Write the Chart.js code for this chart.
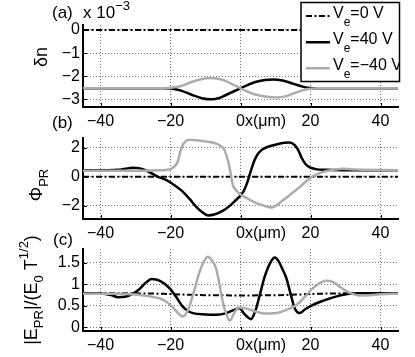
<!DOCTYPE html>
<html><head><meta charset="utf-8">
<script src="https://cdn.jsdelivr.net/npm/chart.js@4.4.0/dist/chart.umd.min.js"></script>
<style>
html,body{margin:0;padding:0;background:#fff;}
#wrap{position:relative;width:415px;height:357px;}
canvas{position:absolute;left:0;top:0;}
</style></head><body>
<div id="wrap">
<canvas id="ca" width="415" height="357"></canvas>
<canvas id="cb" width="415" height="357"></canvas>
<canvas id="cc" width="415" height="357"></canvas>
</div>
<script>
// ---------- data ----------
const xTicks = [-40, -20, 0, 20, 40];
const seriesNames = ['V_e=0 V', 'V_e=40 V', 'V_e=-40 V'];

// (a) delta n  (x 10^-3)
const dnTicks = [0, -1, -2, -3];
const dnX0 = [-45, 45];
const dnV0 = [0, 0];
const dnX40 = [-45,-22,-20,-17,-14,-11,-8.5,-6,-4,-2,0,2,4,7,9.3,12,15,18,20,22,45];
const dnV40 = [-2.52,-2.52,-2.53,-2.62,-2.8,-2.95,-3.0,-2.94,-2.8,-2.66,-2.52,-2.38,-2.26,-2.16,-2.14,-2.18,-2.32,-2.46,-2.51,-2.52,-2.52];
const dnXm40 = [-45,-22,-20,-17,-14,-11,-8.8,-6,-4,-2,0,2,4,7,10.5,13,15,18,20,22,45];
const dnVm40 = [-2.52,-2.52,-2.5,-2.42,-2.25,-2.12,-2.08,-2.12,-2.22,-2.37,-2.52,-2.66,-2.78,-2.88,-2.92,-2.86,-2.75,-2.6,-2.54,-2.52,-2.52];

// (b) Phi_PR
const phTicks = [2, 0, -2];
const phX0 = [-45, 45];
const phV0 = [0, 0];
const phX40 = [-45,-38,-35,-33,-30.8,-29,-27,-25,-23.6,-22,-20.3,-18.5,-16.5,-14.5,-12.7,-11,-9.3,-7.5,-5.1,-3,-1.5,0,1,2,3,4,5,6,7.5,10,12.5,14,15.5,16.5,17.5,18.5,19.8,21.5,24.5,30,45];
const phV40 = [0.46,0.46,0.48,0.55,0.63,0.6,0.45,0.18,0.0,-0.15,-0.35,-0.65,-1.03,-1.55,-2.07,-2.45,-2.68,-2.62,-2.37,-2.0,-1.65,-1.3,-0.95,-0.35,0.45,1.15,1.6,1.85,2.05,2.22,2.36,2.38,2.2,1.85,1.3,0.9,0.65,0.53,0.48,0.46,0.46];
const phXm40 = [-45,-30,-23,-20.3,-19,-17.9,-17.3,-16.5,-15.5,-14.6,-12,-9,-7,-5.5,-4.6,-3.8,-3.1,-2.2,-1.2,0.2,2,3.6,6,8.9,11.5,14.1,17,19.8,22,24.5,27,29.3,33,45];
const phVm40 = [0.42,0.42,0.45,0.5,0.7,1.06,1.65,2.2,2.5,2.56,2.52,2.42,2.3,2.12,1.87,1.3,0.6,-0.56,-0.95,-1.26,-1.5,-1.72,-1.95,-2.13,-1.75,-1.26,-0.7,-0.1,0.2,0.4,0.5,0.55,0.5,0.46];

// (c) |E_PR|/(E_0 T^{1/2})
const eTicks = [0, 0.5, 1, 1.5];
const eX0 = [-45,-30,-22,-16,-10,0,10,16,22,30,45];
const eV0 = [0.79,0.79,0.78,0.76,0.745,0.74,0.745,0.76,0.78,0.79,0.79];
const eX40 = [-45,-39,-37,-35,-33,-31,-29,-27,-25.4,-23,-20.3,-18,-16.5,-15,-13.6,-10,-7,-4,-2,-0.3,1.2,3,4.3,5.5,7,8.5,9.8,11,12,13.1,14.5,15.5,16.9,18.5,20.7,23,25.5,28,31.2,35,45];
const eV40 = [0.79,0.78,0.75,0.70,0.71,0.77,0.88,1.04,1.12,1.08,0.91,0.66,0.48,0.38,0.33,0.3,0.29,0.33,0.4,0.44,0.3,0.19,0.4,0.75,1.2,1.5,1.62,1.52,1.35,1.14,0.72,0.44,0.33,0.42,0.52,0.6,0.67,0.73,0.78,0.79,0.79];
const eXm40 = [-45,-35,-30,-26,-23,-21.3,-19.5,-18,-16.5,-15,-13.6,-11.7,-10.3,-9.3,-8.2,-7,-6,-5.1,-4,-3.1,-2,-0.5,1.5,4.6,7,10.3,13,16,18.5,20.7,22.5,24.5,26.5,28.4,30.5,32.2,34,36,40,45];
const eVm40 = [0.78,0.78,0.76,0.72,0.67,0.6,0.48,0.34,0.25,0.4,0.75,1.29,1.55,1.64,1.56,1.37,1.0,0.6,0.3,0.15,0.3,0.46,0.44,0.36,0.32,0.33,0.4,0.52,0.72,0.91,1.02,1.08,1.05,0.94,0.83,0.77,0.74,0.74,0.77,0.78];

// ---------- styling ----------
const FF = "'Liberation Sans', Arial, Helvetica, sans-serif";
const W = 415, H = 357, XH = 24;
const GRAY = '#acacac';
const DASH = [6, 2.5, 2, 2.5];
const GRID = 'rgba(0,0,0,0.55)';
const MINUS = '\u2212';
const fmt = v => String(v).replace('-', MINUS);
const pts = (xs, ys) => xs.map((x, i) => ({x, y: ys[i]}));

function drawRich(ctx, x, y, parts, opts = {}) {
  ctx.save();
  ctx.translate(x, y);
  if (opts.rot) ctx.rotate(opts.rot);
  ctx.textBaseline = 'alphabetic';
  ctx.textAlign = 'left';
  ctx.fillStyle = '#000';
  let total = 0;
  for (const p of parts) { ctx.font = p.s + 'px ' + FF; total += ctx.measureText(p.t).width; }
  let cx = opts.center ? -total / 2 : 0;
  for (const p of parts) {
    ctx.font = p.s + 'px ' + FF;
    ctx.fillText(p.t, cx, p.dy || 0);
    cx += ctx.measureText(p.t).width;
  }
  ctx.restore();
}

const tickMarks = {
  id: 'tickMarks',
  afterDraw(chart) {
    const {ctx, chartArea: a, scales: {x, y}} = chart;
    ctx.save();
    ctx.strokeStyle = '#000'; ctx.lineWidth = 1;
    ctx.beginPath();
    x.ticks.forEach(t => { const p = Math.round(x.getPixelForValue(t.value)) + 0.5; ctx.moveTo(p, a.bottom); ctx.lineTo(p, a.bottom - 4); });
    y.ticks.forEach(t => { const p = Math.round(y.getPixelForValue(t.value)) + 0.5; ctx.moveTo(a.left, p); ctx.lineTo(a.left + 4, p); });
    ctx.stroke();
    // "x(μm)" attached after the 0 tick label
    let lx = x.getPixelForValue(0), ly = a.bottom + 5 + 10;
    try {
      const items = x.getLabelItems();
      const it = items.find(i => i.label === '0');
      if (it) { ly = it.options.translation[1] + it.textOffset; ctx.textBaseline = it.options.textBaseline || 'middle'; }
    } catch (e) { ctx.textBaseline = 'middle'; }
    ctx.font = '16px ' + FF;
    const w0 = ctx.measureText('0').width;
    ctx.textAlign = 'left'; ctx.fillStyle = '#000';
    ctx.fillText('x(\u03bcm)', lx + w0 / 2, ly);
    ctx.restore();
  }
};

function makeChart(id, area, yMin, yMax, yTicks, datasets, extra) {
  return new Chart(document.getElementById(id), {
    type: 'line',
    data: {datasets},
    options: {
      responsive: false, animation: false, devicePixelRatio: 1,
      layout: {padding: {left: 0, right: W - area.right, top: area.top, bottom: H - area.bottom - XH}},
      plugins: {legend: {display: false}, tooltip: {enabled: false}},
      elements: {point: {radius: 0}, line: {cubicInterpolationMode: 'monotone'}},
      scales: {
        x: {
          type: 'linear', min: -45, max: 45,
          afterBuildTicks: s => { s.ticks = xTicks.map(v => ({value: v})); },
          afterFit: s => { s.height = XH; },
          ticks: {padding: 5, color: '#000', font: {family: FF, size: 16}, maxRotation: 0, autoSkip: false, callback: v => fmt(v)},
          grid: {color: GRID, drawTicks: false, lineWidth: 1},
          border: {display: true, color: '#000', width: 2, dash: [1, 2]}
        },
        y: {
          type: 'linear', min: yMin, max: yMax,
          afterBuildTicks: s => { s.ticks = yTicks.map(v => ({value: v})); },
          afterFit: s => { s.width = area.left; },
          ticks: {padding: 3, color: '#000', font: {family: FF, size: 16}, autoSkip: false, callback: v => fmt(v)},
          grid: {color: GRID, drawTicks: false, lineWidth: 1},
          border: {display: true, color: '#000', width: 2, dash: [1, 2]}
        }
      }
    },
    plugins: [tickMarks, {id: 'extra', afterDraw: extra}]
  });
}

function sets(x0, v0, x40, v40, xm40, vm40) {
  return [
    {label: seriesNames[2], data: pts(xm40, vm40), borderColor: GRAY, borderWidth: 2.5},
    {label: seriesNames[1], data: pts(x40, v40), borderColor: '#000', borderWidth: 2.5},
    {label: seriesNames[0], data: pts(x0, v0), borderColor: '#000', borderWidth: 2, borderDash: DASH, cubicInterpolationMode: 'default', tension: 0}
  ];
}

// panel (a)
makeChart('ca', {left: 83, right: 398, top: 25, bottom: 107}, -3.33, 0.216, dnTicks,
  sets(dnX0, dnV0, dnX40, dnV40, dnXm40, dnVm40),
  chart => {
    const ctx = chart.ctx;
    drawRich(ctx, 52, 18, [{t: '(a)', s: 17}]);
    drawRich(ctx, 83, 18, [{t: 'x 10', s: 17}, {t: MINUS + '3', s: 13, dy: -8}]);
    drawRich(ctx, 47, 57, [{t: '\u03b4n', s: 18}], {rot: -Math.PI / 2, center: true});
    // legend
    ctx.save();
    ctx.fillStyle = '#fff'; ctx.fillRect(301, 2.5, 98.5, 79);
    ctx.strokeStyle = '#000'; ctx.lineWidth = 1.5; ctx.strokeRect(301, 2.5, 98.5, 79);
    ctx.beginPath(); ctx.rect(301, 2.5, 98.5, 79); ctx.clip();
    const rows = [
      {y: 16, col: '#000', dash: DASH, w: 2, v: '=0 V'},
      {y: 42.3, col: '#000', dash: [], w: 2.5, v: '=40 V'},
      {y: 68.3, col: GRAY, dash: [], w: 2.5, v: '=' + MINUS + '40 V'}
    ];
    rows.forEach(r => {
      ctx.save();
      ctx.strokeStyle = r.col; ctx.lineWidth = r.w; ctx.setLineDash(r.dash);
      ctx.beginPath(); ctx.moveTo(306, r.y); ctx.lineTo(330, r.y); ctx.stroke();
      ctx.restore();
      drawRich(ctx, 333, r.y + 2, [{t: 'V', s: 16}, {t: 'e', s: 12, dy: 8}, {t: r.v, s: 16}]);
    });
    ctx.restore();
  });

// panel (b)
makeChart('cb', {left: 83, right: 398, top: 138, bottom: 219}, -2.93, 2.69, phTicks,
  sets(phX0, phV0, phX40, phV40, phXm40, phVm40),
  chart => {
    const ctx = chart.ctx;
    drawRich(ctx, 52, 128, [{t: '(b)', s: 17}]);
    drawRich(ctx, 42, 185, [{t: '\u03a6', s: 18}, {t: 'PR', s: 13, dy: 6}], {rot: -Math.PI / 2, center: true});
  });

// panel (c)
makeChart('cc', {left: 83, right: 398, top: 249, bottom: 331}, -0.086, 1.82, eTicks,
  sets(eX0, eV0, eX40, eV40, eXm40, eVm40),
  chart => {
    const ctx = chart.ctx;
    drawRich(ctx, 53, 245, [{t: '(c)', s: 17}]);
    drawRich(ctx, 37, 290, [
      {t: '|E', s: 18}, {t: 'PR', s: 13, dy: 6}, {t: '|/(E', s: 18}, {t: '0', s: 13, dy: 6},
      {t: ' T', s: 18}, {t: '1/2', s: 13, dy: -9}, {t: ')', s: 18}
    ], {rot: -Math.PI / 2, center: true});
  });
</script>
</body></html>
